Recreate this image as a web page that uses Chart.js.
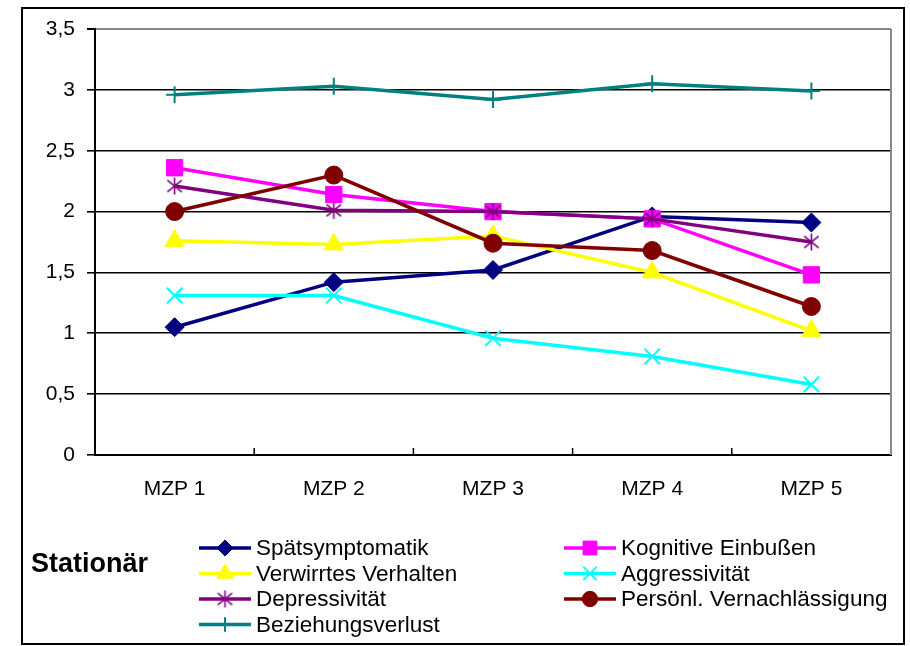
<!DOCTYPE html>
<html>
<head>
<meta charset="utf-8">
<script src="https://cdn.jsdelivr.net/npm/chart.js@4"></script>
<style>
  html, body { margin: 0; padding: 0; background: #fff; }
  canvas { display: block; }
</style>
</head>
<body>
<canvas id="chart" width="910" height="646"></canvas>
<script>
// Data
const categories = ['MZP 1', 'MZP 2', 'MZP 3', 'MZP 4', 'MZP 5'];
const seriesNames = [
  'Spätsymptomatik', 'Kognitive Einbußen', 'Verwirrtes Verhalten', 'Aggressivität',
  'Depressivität', 'Persönl. Vernachlässigung', 'Beziehungsverlust'
];
const spaetsymptomatik = [1.05, 1.42, 1.52, 1.96, 1.91];
const kognitive = [2.36, 2.14, 2.00, 1.94, 1.48];
const verwirrt = [1.76, 1.73, 1.80, 1.50, 1.02];
const aggressivitaet = [1.31, 1.31, 0.96, 0.81, 0.58];
const depressivitaet = [2.21, 2.01, 2.00, 1.94, 1.75];
const vernachlaessigung = [2.00, 2.30, 1.74, 1.68, 1.22];
const beziehungsverlust = [2.96, 3.03, 2.92, 3.05, 2.99];
const legendTitle = 'Stationär';

const FONT = '"Liberation Sans", Arial, sans-serif';

// Excel-style star marker (X with vertical bar)
function makeStar(color, size) {
  const c = document.createElement('canvas');
  c.width = size; c.height = size;
  const g = c.getContext('2d');
  const m = size / 2, r = size / 2 - 1;
  g.strokeStyle = color;
  g.lineWidth = 1.6;
  g.beginPath();
  g.moveTo(m, m - r); g.lineTo(m, m + r);
  g.moveTo(m - r * 0.85, m - r * 0.7); g.lineTo(m + r * 0.85, m + r * 0.7);
  g.moveTo(m + r * 0.85, m - r * 0.7); g.lineTo(m - r * 0.85, m + r * 0.7);
  g.stroke();
  return c;
}

const styles = [
  { color: '#000080', pointStyle: 'rectRot', radius: 9.5, pw: 1 },
  { color: '#FF00FF', pointStyle: 'rect', radius: 11.5, pw: 1 },
  { color: '#FFFF00', pointStyle: 'triangle', radius: 11, pw: 1 },
  { color: '#00FFFF', pointStyle: 'crossRot', radius: 11, pw: 2 },
  { color: '#800080', pointStyle: makeStar('#800080', 19), radius: 9, pw: 1 },
  { color: '#800000', pointStyle: 'circle', radius: 9, pw: 1 },
  { color: '#008080', pointStyle: 'cross', radius: 8.5, pw: 2 }
];
const values = [spaetsymptomatik, kognitive, verwirrt, aggressivitaet, depressivitaet, vernachlaessigung, beziehungsverlust];

const datasets = values.map((data, i) => ({
  label: seriesNames[i],
  data: data,
  borderColor: styles[i].color,
  backgroundColor: styles[i].color,
  pointBackgroundColor: styles[i].color,
  pointBorderColor: styles[i].color,
  pointStyle: styles[i].pointStyle,
  pointRadius: styles[i].radius,
  pointBorderWidth: styles[i].pw,
  borderWidth: 3.5,
  tension: 0,
  order: values.length - i
}));

// frame, inner ticks, right border and the legend
const decorations = {
  id: 'decorations',
  afterDraw(chart) {
    const ctx = chart.ctx;
    const area = chart.chartArea;
    const xs = chart.scales.x;
    ctx.save();
    // grey right border of the plot
    ctx.strokeStyle = '#888888';
    ctx.lineWidth = 2;
    ctx.beginPath();
    ctx.moveTo(area.right, area.top);
    ctx.lineTo(area.right, area.bottom);
    ctx.stroke();
    // category ticks pointing into the plot
    ctx.strokeStyle = '#000';
    ctx.lineWidth = 1.5;
    for (let i = 0; i < categories.length - 1; i++) {
      const x = (xs.getPixelForValue(i) + xs.getPixelForValue(i + 1)) / 2;
      ctx.beginPath();
      ctx.moveTo(x, area.bottom);
      ctx.lineTo(x, area.bottom - 7);
      ctx.stroke();
    }
    // outer frame
    ctx.strokeStyle = '#000';
    ctx.lineWidth = 2;
    ctx.strokeRect(22, 8, 882, 636);

    // legend
    ctx.fillStyle = '#000';
    ctx.font = 'bold 27px ' + FONT;
    ctx.textBaseline = 'middle';
    ctx.fillText(legendTitle, 31, 565);

    const colX = [199, 564];
    chart.data.datasets.forEach((ds, i) => {
      const col = i % 2, row = Math.floor(i / 2);
      const x0 = colX[col], y = 548 + row * 25.5;
      ctx.strokeStyle = ds.borderColor;
      ctx.lineWidth = 3.5;
      ctx.beginPath();
      ctx.moveTo(x0, y);
      ctx.lineTo(x0 + 52, y);
      ctx.stroke();
      ctx.fillStyle = ds.pointBackgroundColor;
      ctx.strokeStyle = ds.pointBorderColor;
      ctx.lineWidth = ds.pointBorderWidth;
      Chart.helpers.drawPoint(ctx, {
        pointStyle: ds.pointStyle,
        radius: ds.pointRadius * 0.85,
        rotation: 0,
        borderWidth: ds.pointBorderWidth
      }, x0 + 26, y);
      ctx.fillStyle = '#000';
      ctx.font = '22.5px ' + FONT;
      ctx.fillText(ds.label, x0 + 57, y + 1);
    });
    ctx.restore();
  }
};

new Chart(document.getElementById('chart'), {
  type: 'line',
  data: { labels: categories, datasets: datasets },
  options: {
    responsive: false,
    animation: false,
    devicePixelRatio: 1,
    layout: { padding: { top: 29, right: 19, left: 0, bottom: 0 } },
    plugins: { legend: { display: false }, tooltip: { enabled: false } },
    scales: {
      x: {
        offset: true,
        grid: { display: true, drawOnChartArea: false, drawTicks: false, color: 'rgba(0,0,0,0)' },
        border: { color: '#000', width: 2 },
        ticks: { color: '#000', font: { family: FONT, size: 21 }, padding: 22 },
        afterFit: (s) => { s.height = 191; }
      },
      y: {
        min: 0,
        max: 3.5,
        ticks: {
          stepSize: 0.5,
          color: '#000',
          font: { family: FONT, size: 21 },
          padding: 12,
          callback: (v) => String(v).replace('.', ',')
        },
        grid: {
          color: (c) => (c.tick && c.tick.value === 3.5 ? '#888888' : '#000'),
          lineWidth: (c) => (c.tick && c.tick.value === 3.5 ? 2 : 1.6),
          tickLength: 8,
          tickColor: '#000'
        },
        border: { color: '#000', width: 2 },
        afterFit: (s) => { s.width = 95; }
      }
    }
  },
  plugins: [decorations]
});
</script>
</body>
</html>
